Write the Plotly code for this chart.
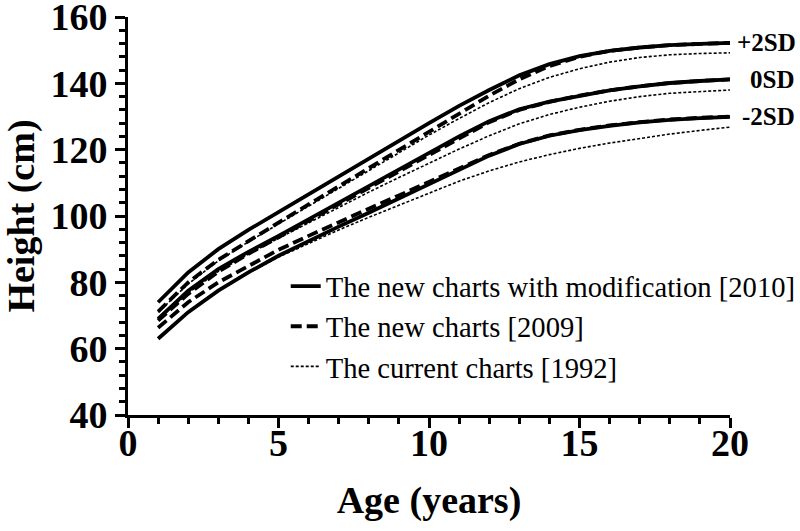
import plotly.graph_objects as go

ages = list(range(1, 21))

new2010_p2 = [74.0, 83.0, 90.0, 95.8, 101.2, 106.6, 112.0, 117.4, 122.8, 128.0, 133.2, 138.0, 142.4, 145.8, 148.2, 149.8, 150.8, 151.5, 151.9, 152.2]
new2010_0 = [69.0, 77.5, 84.0, 89.2, 94.0, 99.0, 104.0, 109.0, 114.0, 119.0, 124.0, 128.6, 132.2, 134.5, 136.3, 137.9, 139.1, 140.1, 140.7, 141.2]
new2010_m2 = [63.0, 71.0, 77.5, 83.0, 88.0, 92.5, 96.8, 101.0, 105.3, 109.7, 114.0, 118.2, 121.7, 124.2, 125.9, 127.2, 128.2, 129.0, 129.5, 129.9]

new2009_p2 = [71.2, 80.0, 86.8, 92.5, 98.0, 103.5, 109.0, 114.5, 120.0, 125.5, 131.0, 136.3, 141.2, 145.2, 148.0, 149.8, 150.8, 151.5, 151.9, 152.2]
new2009_0 = [68.5, 76.5, 83.2, 88.6, 93.6, 98.6, 103.6, 108.6, 113.6, 118.6, 123.6, 128.3, 132.0, 134.4, 136.3, 137.9, 139.1, 140.1, 140.7, 141.2]
new2009_m2 = [66.3, 74.0, 80.0, 85.0, 89.8, 94.0, 98.2, 102.2, 106.2, 110.3, 114.4, 118.4, 121.8, 124.3, 126.0, 127.3, 128.3, 129.1, 129.6, 130.0]

current1992_p2 = [71.0, 79.5, 86.5, 92.2, 97.6, 103.0, 108.4, 113.8, 119.2, 124.4, 129.4, 134.2, 138.4, 141.8, 144.4, 146.4, 147.8, 148.6, 149.0, 149.2]
current1992_0 = [68.8, 76.8, 83.3, 88.5, 93.3, 98.0, 102.6, 107.2, 111.6, 116.0, 120.2, 124.2, 127.8, 130.6, 132.8, 134.6, 136.0, 137.0, 137.6, 138.0]
current1992_m2 = [63.2, 71.2, 77.6, 82.8, 87.6, 91.8, 95.8, 99.6, 103.3, 107.0, 110.5, 113.6, 116.3, 118.5, 120.4, 122.0, 123.4, 124.7, 125.8, 126.8]

series_names = ["The new charts with modification [2010]", "The new charts [2009]", "The current charts [1992]"]
sd_labels = ["+2SD", "0SD", "-2SD"]

groups = [
    (series_names[0], [new2010_p2, new2010_0, new2010_m2], dict(color="black", width=3.8, dash="solid")),
    (series_names[1], [new2009_p2, new2009_0, new2009_m2], dict(color="black", width=3.8, dash="11px,5px")),
    (series_names[2], [current1992_p2, current1992_0, current1992_m2], dict(color="black", width=1.6, dash="3px,2px")),
]

fig = go.Figure()
for gi, (name, curves, line) in enumerate(groups):
    for ci, ys in enumerate(curves):
        fig.add_trace(go.Scatter(
            x=ages, y=ys, mode="lines", name=name, line=line,
            legendgroup=name, showlegend=(ci == 0),
        ))

label_x = [1.0083, 1.030, 1.0166]
for lab, ys, lx in zip(sd_labels, [new2010_p2, new2010_0, new2010_m2], label_x):
    fig.add_annotation(
        x=lx, xref="paper", y=ys[-1], yref="y", text=lab, showarrow=False,
        xanchor="left", yanchor="middle",
        font=dict(family="Liberation Serif", size=25, color="black", weight="bold"),
    )

axis_font = dict(family="Liberation Serif", size=38, color="black", weight="bold")
common = dict(
    showline=True, linewidth=3, linecolor="black", mirror=False,
    ticks="outside", ticklen=10, tickwidth=3, tickcolor="black",
    showgrid=False, zeroline=False, tickfont=axis_font,
    automargin=False, ticklabeloverflow="allow",
)

fig.update_xaxes(
    range=[0, 20], tick0=0, dtick=5, ticklabelstandoff=-18,
    minor=dict(dtick=1, ticks="outside", ticklen=6, tickwidth=2.5, tickcolor="black", showgrid=False),
    title=dict(text="Age (years)", font=axis_font, standoff=24),
    **common,
)
fig.update_yaxes(
    range=[40, 160], tick0=40, dtick=20,
    minor=dict(dtick=4, ticks="outside", ticklen=6, tickwidth=2.5, tickcolor="black", showgrid=False),
    title=dict(text="Height (cm)", font=axis_font),
    **common,
)

fig.update_layout(
    width=800, height=531,
    margin=dict(l=128, r=70, t=17, b=116, autoexpand=False),
    plot_bgcolor="white", paper_bgcolor="white",
    legend=dict(
        x=0.262, y=0.387, xanchor="left", yanchor="top",
        font=dict(family="Liberation Serif", size=28.6, color="black"),
        bgcolor="rgba(0,0,0,0)", tracegroupgap=0,
    ),
)

fig.write_html(
    "out.html",
    config={"displayModeBar": False},
    post_script="document.body.style.margin='0';document.body.style.overflow='hidden';",
)
